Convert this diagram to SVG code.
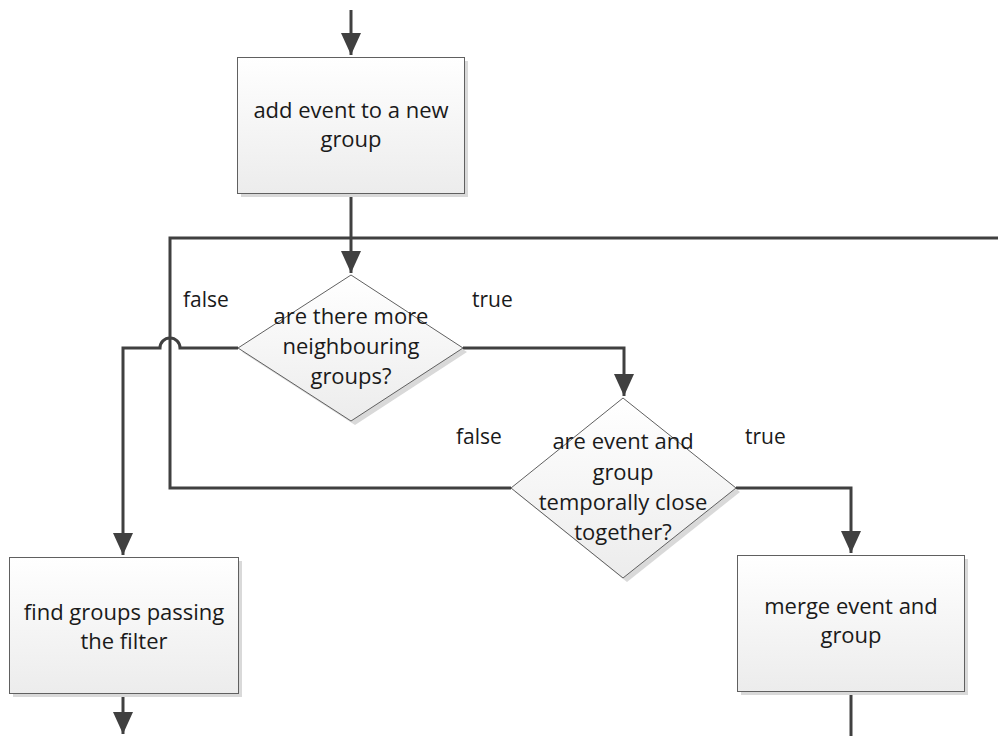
<svg xmlns="http://www.w3.org/2000/svg" width="998" height="736" viewBox="0 0 998 736">
<defs>
<linearGradient id="fill" x1="0" y1="0" x2="0" y2="1">
<stop offset="0" stop-color="#ffffff"/>
<stop offset="1" stop-color="#ececec"/>
</linearGradient>
<marker id="arr" markerUnits="userSpaceOnUse" markerWidth="22" markerHeight="22" viewBox="0 0 22 20" refX="22" refY="10" orient="auto">
<path d="M0,0 L22,10 L0,20 Z" fill="#404040"/>
</marker>
<style>
.shape{fill:url(#fill);stroke:#606060;stroke-width:1}
.shadow{fill:#d9d9d9}
.conn{fill:none;stroke:#404040;stroke-width:3}
text{font-family:"Open Sans","Liberation Sans",sans-serif;font-size:22px;fill:#1a1a1a;text-anchor:middle}
.lbl{text-anchor:start;font-size:21px}
</style>
</defs>
<rect width="998" height="736" fill="#ffffff"/>
<g id="connectors">
<path class="conn" d="M351,10 V55" marker-end="url(#arr)"/>
<path class="conn" d="M351,193 V273" marker-end="url(#arr)"/>
<path class="conn" d="M463,348 H624 V396" marker-end="url(#arr)"/>
<path class="conn" d="M736,488 H851 V553" marker-end="url(#arr)"/>
<path class="conn" d="M238,348 H180 A10,10 0 0 0 160,348 H123 V555" marker-end="url(#arr)"/>
<path class="conn" d="M511,488 H170 V238 H998"/>
<path class="conn" d="M123,693 V734" marker-end="url(#arr)"/>
<path class="conn" d="M851,691 V736"/>
</g>
<g id="n1">
<rect class="shadow" x="241" y="61" width="227" height="136"/>
<rect class="shape" x="237.5" y="57.5" width="227" height="136"/>
<text x="351" y="118">add event to a new</text>
<text x="351" y="147">group</text>
</g>
<g id="d1">
<polygon class="shadow" points="355,279 467,352 355,425 242,352"/>
<polygon class="shape" points="351,275 463,348 351,421 238,348"/>
<text x="351" y="324">are there more</text>
<text x="351" y="354">neighbouring</text>
<text x="351" y="384">groups?</text>
</g>
<g id="d2">
<polygon class="shadow" points="627,402 740,492 627,582 515,492"/>
<polygon class="shape" points="623,398 736,488 623,578 511,488"/>
<text x="623" y="449">are event and</text>
<text x="623" y="480">group</text>
<text x="623" y="510">temporally close</text>
<text x="623" y="540">together?</text>
</g>
<g id="n3">
<rect class="shadow" x="13" y="561" width="229" height="136"/>
<rect class="shape" x="9.5" y="557.5" width="229" height="136"/>
<text x="124" y="620">find groups passing</text>
<text x="124" y="649">the filter</text>
</g>
<g id="n4">
<rect class="shadow" x="741" y="559" width="227" height="136"/>
<rect class="shape" x="737.5" y="555.5" width="227" height="136"/>
<text x="851" y="614">merge event and</text>
<text x="851" y="643">group</text>
</g>
<g id="labels">
<text class="lbl" x="183" y="307">false</text>
<text class="lbl" x="472" y="307">true</text>
<text class="lbl" x="456" y="444">false</text>
<text class="lbl" x="745" y="444">true</text>
</g>
</svg>
